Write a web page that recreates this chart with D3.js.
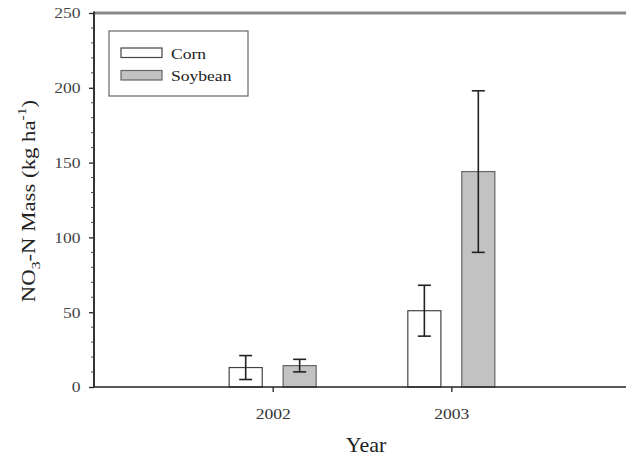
<!DOCTYPE html>
<html><head><meta charset="utf-8">
<script src="https://cdn.jsdelivr.net/npm/d3@7"></script>
<style>html,body{margin:0;padding:0;background:#fff;}svg{display:block;}</style>
</head><body>
<script>
const years = [2002, 2003];
const seriesNames = ["Corn", "Soybean"];
const cornMean = [13, 51];
const cornErr = [8, 17];
const soyMean = [14.3, 144];
const soyErr = [4.2, 54];
const yTicks = [0, 50, 100, 150, 200, 250];

const W = 626, H = 456;
const svg = d3.select("body").append("svg").attr("width", W).attr("height", H);
const font = "'Liberation Serif','Times New Roman',serif";
const SX = 1.17; // horizontal text stretch seen in the reference

const x = d3.scaleLinear().domain([2001, 2004]).range([94, 630]);
const y = d3.scaleLinear().domain([0, 250]).range([387, 13]);

const off = 0.151, bw = 0.185;
const series = [
  {name: seriesNames[0], mean: cornMean, err: cornErr, fill: "#ffffff", stroke: "#444", dx: -off},
  {name: seriesNames[1], mean: soyMean, err: soyErr, fill: "#c2c2c2", stroke: "#666", dx: off}
];

// top frame line
svg.append("line").attr("x1", x(2001)).attr("x2", W).attr("y1", y(250)).attr("y2", y(250))
  .attr("stroke", "#888").attr("stroke-width", 3);

// bars
series.forEach(s => {
  const g = svg.append("g");
  years.forEach((yr, i) => {
    const x0 = x(yr + s.dx - bw / 2), x1 = x(yr + s.dx + bw / 2);
    g.append("rect").attr("x", x0).attr("y", y(s.mean[i]))
      .attr("width", x1 - x0).attr("height", y(0) - y(s.mean[i]))
      .attr("fill", s.fill).attr("stroke", s.stroke).attr("stroke-width", 1.2);
  });
  years.forEach((yr, i) => {
    const cx = x(yr + s.dx);
    const hi = y(s.mean[i] + s.err[i]), lo = y(s.mean[i] - s.err[i]);
    g.append("line").attr("x1", cx).attr("x2", cx).attr("y1", hi).attr("y2", lo)
      .attr("stroke", "#222").attr("stroke-width", 1.6);
    [hi, lo].forEach(v => g.append("line").attr("x1", cx - 6.5).attr("x2", cx + 6.5)
      .attr("y1", v).attr("y2", v).attr("stroke", "#222").attr("stroke-width", 1.6));
  });
});

// y axis
const yAxis = svg.append("g").attr("transform", `translate(${x(2001)},0)`)
  .call(d3.axisLeft(y).tickValues(yTicks).tickSize(5).tickPadding(9));
yAxis.select(".domain").remove();
yAxis.selectAll(".tick line").attr("stroke", "#222").attr("stroke-width", 1.3);
yAxis.selectAll("text").attr("font-family", font).attr("font-size", 15).attr("fill", "#444")
  .attr("x", -13.5 / SX).attr("transform", `scale(${SX},1)`);
const minor = d3.range(0, 251, 10).filter(v => v % 50 !== 0);
yAxis.selectAll(".minor").data(minor).enter().append("line").attr("class", "minor")
  .attr("x1", -3).attr("x2", 0).attr("y1", d => y(d)).attr("y2", d => y(d))
  .attr("stroke", "#555").attr("stroke-width", 1);
svg.append("line").attr("x1", x(2001)).attr("x2", x(2001)).attr("y1", y(250) - 1.5).attr("y2", y(0))
  .attr("stroke", "#333").attr("stroke-width", 2);

// x axis
const xAxis = svg.append("g").attr("transform", `translate(0,${y(0)})`)
  .call(d3.axisBottom(x).tickValues(years).tickFormat(d3.format("d")).tickSize(5).tickPadding(16));
xAxis.select(".domain").remove();
xAxis.selectAll(".tick line").attr("stroke", "#222").attr("stroke-width", 1.3);
xAxis.selectAll("text").attr("font-family", font).attr("font-size", 15).attr("fill", "#333")
  .attr("transform", `scale(${SX},1)`);
svg.append("line").attr("x1", x(2001)).attr("x2", W).attr("y1", y(0)).attr("y2", y(0))
  .attr("stroke", "#222").attr("stroke-width", 1.6);

// axis titles
svg.append("text").attr("transform", `translate(366,451.5) scale(1.1,1)`)
  .attr("text-anchor", "middle").attr("font-family", font).attr("font-size", 20).attr("fill", "#222")
  .text("Year");
const yl = svg.append("text").attr("transform", "translate(35,201) rotate(-90) scale(1.2,1)")
  .attr("text-anchor", "middle").attr("font-family", font).attr("font-size", 19).attr("fill", "#222");
yl.append("tspan").text("NO");
yl.append("tspan").attr("font-size", 13).attr("dy", 5).text("3");
yl.append("tspan").attr("dy", -5).text("-N Mass (kg ha");
yl.append("tspan").attr("font-size", 13).attr("dy", -9).text("-1");
yl.append("tspan").attr("dy", 9).text(")");

// legend
const lg = svg.append("g");
lg.append("rect").attr("x", 109).attr("y", 31).attr("width", 139).attr("height", 65)
  .attr("fill", "#fff").attr("stroke", "#666").attr("stroke-width", 1.2);
series.forEach((s, i) => {
  const yy = 48 + i * 22.5;
  lg.append("rect").attr("x", 121).attr("y", yy).attr("width", 41).attr("height", 9.5)
    .attr("fill", s.fill).attr("stroke", s.stroke).attr("stroke-width", 1.2);
  lg.append("text").attr("transform", `translate(171,${yy + 10.5}) scale(${SX},1)`).attr("font-family", font)
    .attr("font-size", 15).attr("fill", "#222").text(s.name);
});
</script>
</body></html>
